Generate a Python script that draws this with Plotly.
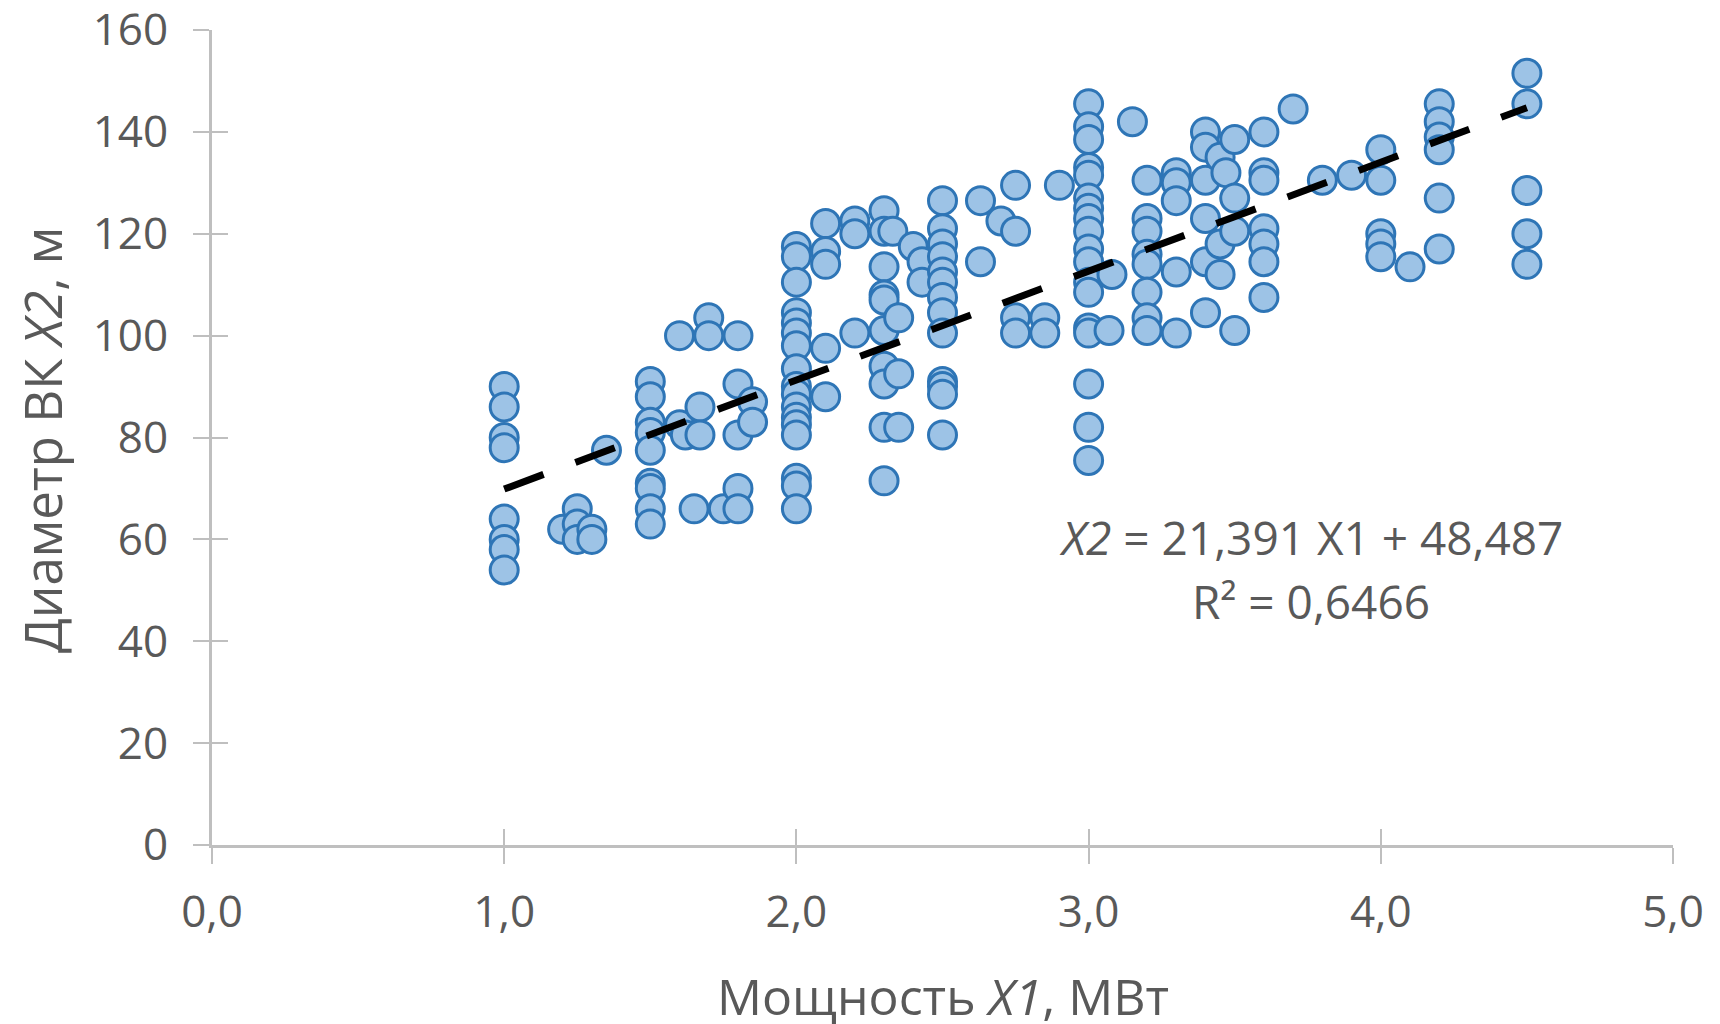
import numpy as np
import plotly.graph_objects as go

# ---- data ----
power_x1 = [
    1.0, 1.0, 1.0, 1.0, 1.0, 1.0, 1.0, 1.0,
    1.2, 1.25, 1.25, 1.25, 1.3, 1.3, 1.35,
    1.5, 1.5, 1.5, 1.5, 1.5, 1.5, 1.5, 1.5, 1.5,
    1.6, 1.6, 1.62, 1.65, 1.67, 1.67, 1.7, 1.7, 1.75,
    1.8, 1.8, 1.8, 1.8, 1.8, 1.85, 1.85,
    2.0, 2.0, 2.0, 2.0, 2.0, 2.0, 2.0, 2.0, 2.0, 2.0, 2.0, 2.0, 2.0, 2.0, 2.0, 2.0, 2.0,
    2.1, 2.1, 2.1, 2.1, 2.1,
    2.2, 2.2, 2.2,
    2.3, 2.3, 2.3, 2.3, 2.3, 2.3, 2.3, 2.3, 2.3, 2.3, 2.33,
    2.35, 2.35, 2.35, 2.4, 2.43, 2.43,
    2.5, 2.5, 2.5, 2.5, 2.5, 2.5, 2.5, 2.5, 2.5, 2.5, 2.5, 2.5, 2.5,
    2.63, 2.63, 2.7, 2.75, 2.75, 2.75, 2.75, 2.85, 2.85, 2.9,
    3.0, 3.0, 3.0, 3.0, 3.0, 3.0, 3.0, 3.0, 3.0, 3.0, 3.0, 3.0, 3.0, 3.0, 3.0, 3.0, 3.0, 3.0,
    3.07, 3.08, 3.15,
    3.2, 3.2, 3.2, 3.2, 3.2, 3.2, 3.2, 3.2,
    3.3, 3.3, 3.3, 3.3, 3.3,
    3.4, 3.4, 3.4, 3.4, 3.4, 3.4, 3.45, 3.45, 3.45, 3.47,
    3.5, 3.5, 3.5, 3.5,
    3.6, 3.6, 3.6, 3.6, 3.6, 3.6, 3.6,
    3.7, 3.8, 3.9,
    4.0, 4.0, 4.0, 4.0, 4.0, 4.1,
    4.2, 4.2, 4.2, 4.2, 4.2, 4.2,
    4.5, 4.5, 4.5, 4.5, 4.5,
]
diameter_x2 = [
    90, 86, 80, 78, 64, 60, 58, 54,
    62, 66, 63, 60, 62, 60, 77.5,
    91, 88, 83, 81, 77.5, 71, 70, 66, 63,
    100, 82.5, 80.5, 66, 86, 80.5, 103.5, 100, 66,
    100, 90.5, 80.5, 70, 66, 87, 83,
    117.5, 115.5, 110.5, 104.5, 102.5, 100.5, 98, 93.5, 90, 88.5, 86, 84, 82.5, 80.5, 72, 70.5, 66,
    122, 116.5, 114, 97.5, 88,
    122.5, 120, 100.5,
    124.5, 120.5, 113.5, 108, 107, 101, 94, 90.5, 82, 71.5, 120.5,
    103.5, 92.5, 82, 117.5, 114.5, 110.5,
    126.5, 121, 118, 115.5, 112.5, 110.5, 107.5, 104.5, 100.5, 91, 90, 88.5, 80.5,
    126.5, 114.5, 122.5, 129.5, 120.5, 103.5, 100.5, 103.5, 100.5, 129.5,
    145.5, 141, 138.5, 133, 131.5, 127, 125, 123, 120.5, 117, 114.5, 110.5, 108.5, 101.5, 100.5, 90.5, 82, 75.5,
    101, 112, 142,
    130.5, 123, 120.5, 116, 114, 108.5, 103.5, 101,
    132, 130, 126.5, 112.5, 100.5,
    140, 137, 130.5, 123, 114.5, 104.5, 135, 118, 112, 132,
    138.5, 127, 120.5, 101,
    140, 132, 130.5, 121, 118, 114.5, 107.5,
    144.5, 130.5, 131.5,
    136.5, 130.5, 120, 118, 115.5, 113.5,
    145.5, 142, 139, 136.5, 127, 117,
    151.5, 145.5, 128.5, 120, 114,
]

trend_slope = 21.391
trend_intercept = 48.487
trend_r2 = 0.6466

x_ticks = [0, 1, 2, 3, 4, 5]
y_ticks = [0, 20, 40, 60, 80, 100, 120, 140, 160]

x_title = "Мощность <i>X1</i>, МВт"
y_title = "Диаметр ВК <i>X2</i>, м"

# ---- styling ----
FONT = "Open Sans"
TXT = "#595959"
AX = "#BFBFBF"

fig = go.Figure()

fig.add_trace(go.Scatter(
    x=power_x1, y=diameter_x2, mode="markers",
    marker=dict(size=28, color="#9DC3E6", line=dict(color="#2E75B6", width=3)),
    showlegend=False, hoverinfo="x+y",
))

tx = np.array([min(power_x1), max(power_x1)])
ty = trend_slope * tx + trend_intercept
fig.add_trace(go.Scatter(
    x=tx, y=ty, mode="lines",
    line=dict(color="black", width=7, dash="42px,34px"),
    showlegend=False, hoverinfo="skip",
))

# helper trace for the inner half of the crossing tick marks
fig.add_trace(go.Scatter(x=[], y=[], xaxis="x2", yaxis="y2", showlegend=False, hoverinfo="skip"))

fmt = lambda v, n: f"{v:.{n}f}".replace(".", ",")
fig.add_annotation(
    x=3.76, y=60.4, xref="x", yref="y",
    text=f"<i>X2</i> = {fmt(trend_slope, 3)} X1 + {fmt(trend_intercept, 3)}",
    showarrow=False, font=dict(family=FONT, size=46, color=TXT),
    xanchor="center", yanchor="middle",
)
fig.add_annotation(
    x=3.76, y=47.9, xref="x", yref="y",
    text=f"R² = {fmt(trend_r2, 4)}",
    showarrow=False, font=dict(family=FONT, size=46, color=TXT),
    xanchor="center", yanchor="middle",
)

fig.add_annotation(
    x=0.5, y=-0.185, xref="paper", yref="paper", text=x_title,
    showarrow=False, font=dict(family=FONT, size=50, color=TXT),
    xanchor="center", yanchor="middle",
)
fig.add_annotation(
    x=-0.1164, y=0.497, xref="paper", yref="paper", text=y_title,
    textangle=-90, showarrow=False, font=dict(family=FONT, size=51, color=TXT),
    xanchor="center", yanchor="middle",
)

axis_common = dict(showgrid=False, zeroline=False, ticklen=16, tickwidth=2, tickcolor=AX)

fig.update_layout(
    width=1720, height=1024,
    margin=dict(l=212, r=47, t=30, b=179, autoexpand=False),
    paper_bgcolor="white", plot_bgcolor="white",
    separators=", ",
    font=dict(family=FONT, color=TXT),
    xaxis=dict(range=[0, 5], tickvals=x_ticks, tickformat=".1f", ticks="outside",
               showline=True, linecolor=AX, linewidth=3, ticklabeloverflow="allow",
               tickfont=dict(family=FONT, size=44, color=TXT), ticklabelstandoff=10,
               **axis_common),
    yaxis=dict(range=[0, 160], tickvals=y_ticks, ticks="outside",
               showline=True, linecolor=AX, linewidth=3, ticklabeloverflow="allow",
               tickfont=dict(family=FONT, size=44, color=TXT), ticklabelstandoff=16,
               **axis_common),
    xaxis2=dict(range=[0, 5], tickvals=x_ticks, ticks="inside", overlaying="x",
                showticklabels=False, showline=False, side="bottom", **axis_common),
    yaxis2=dict(range=[0, 160], tickvals=y_ticks, ticks="inside", overlaying="y",
                showticklabels=False, showline=False, side="left", **axis_common),
)

fig.write_html("out.html", config={"displayModeBar": False},
               post_script="document.body.style.margin='0';")
